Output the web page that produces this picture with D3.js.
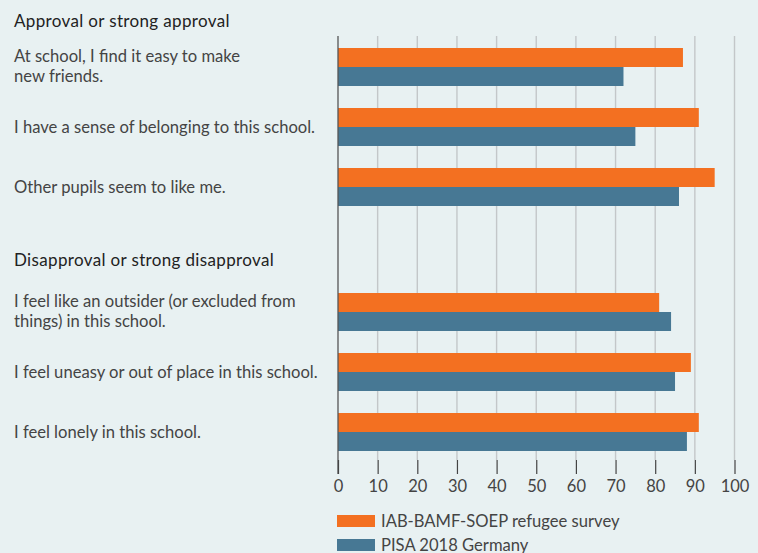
<!DOCTYPE html>
<html>
<head>
<meta charset="utf-8">
<script src="https://cdn.jsdelivr.net/npm/d3@7"></script>
<style>
  html, body { margin: 0; padding: 0; background: #e8f1f2; }
  svg { display: block; font-family: Lato, "Open Sans", sans-serif; }
</style>
</head>
<body>
<svg id="chart" width="758" height="553"></svg>
<script>
// ---- data ----
const groups = ["Approval or strong approval", "Disapproval or strong disapproval"];
const categories = [
  "At school, I find it easy to make|new friends.",
  "I have a sense of belonging to this school.",
  "Other pupils seem to like me.",
  "I feel like an outsider (or excluded from|things) in this school.",
  "I feel uneasy or out of place in this school.",
  "I feel lonely in this school."
];
const categoryGroup = [0, 0, 0, 1, 1, 1];
const seriesNames = ["IAB-BAMF-SOEP refugee survey", "PISA 2018 Germany"];
const refugeeSurvey = [87, 91, 95, 81, 89, 91];
const pisa2018 = [72, 75, 86, 84, 85, 88];
const xTicks = [0, 10, 20, 30, 40, 50, 60, 70, 80, 90, 100];

const colors = ["#f37021", "#477894"];
const svg = d3.select("#chart");

const x = d3.scaleLinear().domain([0, 100]).range([338, 734.5]);

// 7 slots: 3 items, a header slot, 3 items
const slots = [categories[0], categories[1], categories[2], "__gap__", categories[3], categories[4], categories[5]];
const y = d3.scaleBand().domain(slots).range([48, 468]).paddingInner(0).paddingOuter(0);
const groupShift = [0, 5];
const barH = 19;
const yPos = (c, i) => y(c) + groupShift[categoryGroup[i]];

// gridlines
svg.append("g").selectAll("line").data(xTicks.slice(1)).join("line")
  .attr("x1", d => x(d)).attr("x2", d => x(d))
  .attr("y1", 36).attr("y2", 460)
  .attr("stroke", "#c3c7c9").attr("stroke-width", 1.4);

// bars
const rows = categories.map((c, i) => ({c, i, vals: [refugeeSurvey[i], pisa2018[i]]}));
const rowG = svg.append("g").selectAll("g").data(rows).join("g")
  .attr("transform", d => `translate(0,${yPos(d.c, d.i)})`);
rowG.selectAll("rect").data(d => d.vals).join("rect")
  .attr("x", x(0))
  .attr("y", (d, k) => k * barH)
  .attr("width", d => x(d) - x(0))
  .attr("height", barH)
  .attr("fill", (d, k) => colors[k]);

// y axis line
svg.append("line").attr("x1", x(0)).attr("x2", x(0)).attr("y1", 36).attr("y2", 474)
  .attr("stroke", "#555").attr("stroke-width", 1.3);

// x axis
const xAxis = d3.axisBottom(x).tickValues(xTicks).tickSize(14).tickPadding(6).tickFormat(d3.format("d"));
const ax = svg.append("g").attr("transform", "translate(0,460)").call(xAxis);
ax.select(".domain").remove();
ax.selectAll(".tick line").attr("stroke", "#444").attr("stroke-width", 1.2);
ax.selectAll(".tick text").attr("fill", "#444").attr("font-size", 16.5).attr("font-family", "Lato, sans-serif");

// group headers
const headerY = [27, 266];
svg.append("g").selectAll("text").data(groups).join("text")
  .attr("x", 14).attr("y", (d, i) => headerY[i])
  .attr("fill", "#222").attr("font-size", 17).attr("letter-spacing", 0.35).text(d => d);

// category labels
const lab = svg.append("g").selectAll("text").data(rows).join("text")
  .attr("x", 14)
  .attr("fill", "#444").attr("font-size", 16.6)
  .attr("transform", d => {
    const center = yPos(d.c, d.i) + barH;
    const lines = d.c.split("|");
    const base = lines.length === 1 ? center + 6 : center - 5;
    return `translate(0,${base})`;
  });
lab.selectAll("tspan").data(d => d.c.split("|")).join("tspan")
  .attr("x", 14).attr("dy", (d, k) => k === 0 ? 0 : 19.5).text(d => d);

// legend
const leg = svg.append("g").selectAll("g").data(seriesNames).join("g")
  .attr("transform", (d, i) => `translate(337,${515 + i * 24})`);
leg.append("rect").attr("width", 38).attr("height", 12).attr("fill", (d, i) => colors[i]);
leg.append("text").attr("x", 44).attr("y", 11.5).attr("fill", "#444").attr("font-size", 16.6).text(d => d);
</script>
</body>
</html>
